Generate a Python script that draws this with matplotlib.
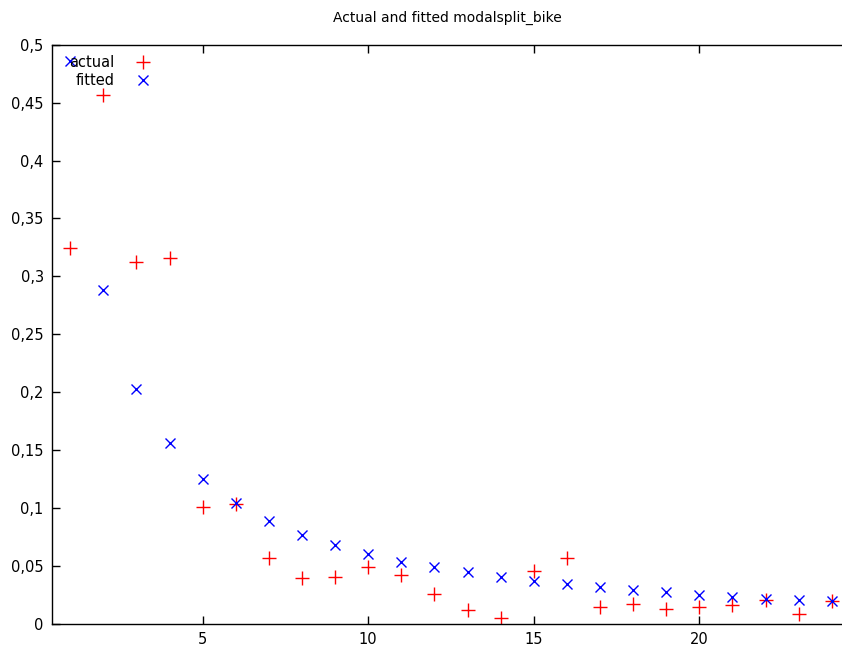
import matplotlib
matplotlib.use("Agg")
import matplotlib.pyplot as plt
from matplotlib.ticker import FuncFormatter, MultipleLocator

obs = list(range(1, 25))
actual = [0.3244, 0.457, 0.3124, 0.3158, 0.1007, 0.1033, 0.0568, 0.0396,
          0.0404, 0.049, 0.042, 0.0258, 0.012, 0.005, 0.0456, 0.0568,
          0.0146, 0.0172, 0.0129, 0.0146, 0.0164, 0.0207, 0.0086, 0.0198]
fitted = [0.486, 0.2883, 0.2031, 0.1558, 0.1248, 0.1041, 0.0886, 0.0766,
          0.068, 0.0602, 0.0534, 0.049, 0.0447, 0.0404, 0.037, 0.0344,
          0.0318, 0.0293, 0.0275, 0.025, 0.0232, 0.0215, 0.0207, 0.0198]
title = "Actual and fitted modalsplit_bike"

plt.rcParams['font.family'] = ['DejaVu Sans']
fig = plt.figure(figsize=(8.42, 6.5), dpi=100)
ax = fig.add_axes([52/842, 26/650, 1 - 52/842, (624 - 44.7)/650])

ax.plot(obs, actual, linestyle='none', marker='+', color='#ff0000',
        markersize=9.5, markeredgewidth=1.0, label='actual')
ax.plot(obs, fitted, linestyle='none', marker='x', color='#0000ff',
        markersize=6.5, markeredgewidth=1.0, label='fitted')

ax.set_xlim(0.45, 24.31)
ax.set_ylim(0, 0.5)
ax.xaxis.set_major_locator(MultipleLocator(5))
ax.yaxis.set_major_locator(MultipleLocator(0.05))
ax.yaxis.set_major_formatter(FuncFormatter(lambda v, p: ('%g' % round(v, 4)).replace('.', ',')))
ax.tick_params(direction='in', length=6, width=1, labelsize=10.5, top=True, right=False, pad=6)
ax.spines['right'].set_visible(False)
for s in ['left', 'bottom', 'top']:
    ax.spines[s].set_linewidth(1.0)

fig.text(0.531, 1 - 18/650, title, ha='center', va='center', fontsize=10)

leg = ax.legend(loc='upper left', bbox_to_anchor=(7/790, 1.0), frameon=False,
                markerfirst=False, fontsize=10.5, handlelength=1.5,
                handletextpad=1.2, labelspacing=0.2, borderaxespad=0.3)
for t in leg.get_texts():
    t.set_ha('right')

fig.savefig('out.png', dpi=100)
